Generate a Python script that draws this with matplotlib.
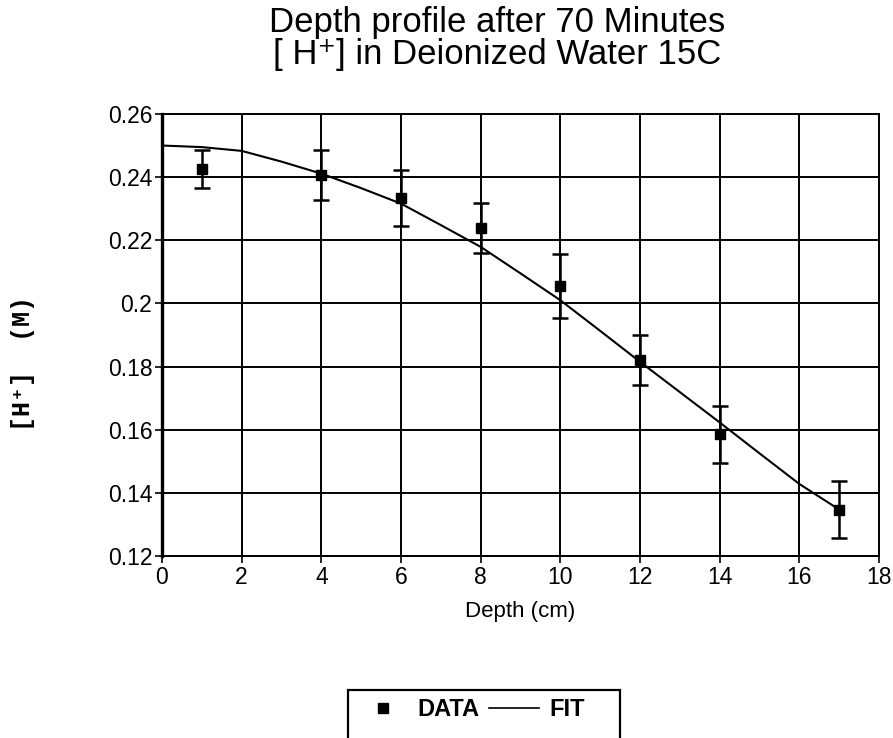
import matplotlib
matplotlib.use("Agg")
import matplotlib.pyplot as plt
from matplotlib.lines import Line2D
from matplotlib.patches import Rectangle

# measured [H+] vs depth, with error bars
depth = [1, 4, 6, 8, 10, 12, 14, 17]
conc = [0.2427, 0.2406, 0.2334, 0.2239, 0.2055, 0.1820, 0.1586, 0.1347]
conc_err = [0.006, 0.008, 0.009, 0.008, 0.010, 0.008, 0.009, 0.009]

# fitted profile
fit_depth = [0, 1, 2, 3, 4, 5, 6, 7, 8, 9, 10, 11, 12, 13, 14, 15, 16, 17]
fit_conc = [0.2500, 0.2495, 0.2483, 0.2449, 0.2411, 0.2365, 0.2316, 0.2248,
            0.2179, 0.2095, 0.2010, 0.1913, 0.1815, 0.1719, 0.1623, 0.1525,
            0.1428, 0.1347]

x_ticks = [0, 2, 4, 6, 8, 10, 12, 14, 16, 18]
y_ticks = [0.12, 0.14, 0.16, 0.18, 0.2, 0.22, 0.24, 0.26]
y_tick_labels = ["0.12", "0.14", "0.16", "0.18", "0.2", "0.22", "0.24", "0.26"]

plt.rcParams["font.family"] = ["Liberation Sans", "DejaVu Sans"]

W, H = 893, 738
fig = plt.figure(figsize=(W / 100, H / 100), dpi=100)
ax = fig.add_axes([0.1814, 0.2466, 0.803, 0.599])

ax.plot(fit_depth, fit_conc, color="black", lw=1.5, zorder=3)
ax.errorbar(depth, conc, yerr=conc_err, fmt="none", ecolor="black",
            elinewidth=1.8, capsize=6, capthick=1.8, zorder=4)
ax.plot(depth, conc, ls="none", marker="s", ms=7.5, color="black", zorder=5)

ax.set_xlim(0, 18)
ax.set_ylim(0.12, 0.26)
ax.set_xticks(x_ticks)
ax.set_yticks(y_ticks)
ax.set_yticklabels(y_tick_labels)
ax.grid(True, color="black", lw=1.4)
ax.set_axisbelow(True)
ax.tick_params(axis="both", direction="out", length=5, width=1.2,
               labelsize=16.5, pad=2, colors="black")
for side in ["left", "bottom", "right", "top"]:
    ax.spines[side].set_linewidth(1.4)
ax.spines["left"].set_linewidth(2.4)

ax.set_xlabel("Depth (cm)", fontsize=16, labelpad=9)

fig.text(0.557, 0.992,
         "Depth profile after 70 Minutes\n[ H\u207a] in Deionized Water 15C",
         ha="center", va="top", fontsize=25, linespacing=0.98)

# typewriter-style y label
fig.text(0.026, 0.508, "[H\u207a]  (M)", rotation=90, ha="center",
         va="center", fontsize=18, weight="bold",
         family=["Liberation Mono", "DejaVu Sans Mono"])

# legend box, running off the bottom edge of the page
fig.patches.append(Rectangle((348 / W, -0.05), (620 - 348) / W,
                             0.05 + 1 - 690 / H, transform=fig.transFigure,
                             fill=False, edgecolor="black", lw=1.6))

handles = [
    Line2D([], [], ls="none", marker="s", ms=7, color="black"),
    Line2D([], [], color="black", lw=1.2),
]
fig.legend(handles, ["DATA", "FIT"], ncol=2, loc="center left",
           bbox_to_anchor=(358 / W, 1 - 710 / H),
           prop={"weight": "bold", "size": 17},
           frameon=False, borderpad=0, borderaxespad=0,
           handlelength=2.1, handletextpad=0.42, columnspacing=0.42)

fig.savefig("out.png", dpi=100)
